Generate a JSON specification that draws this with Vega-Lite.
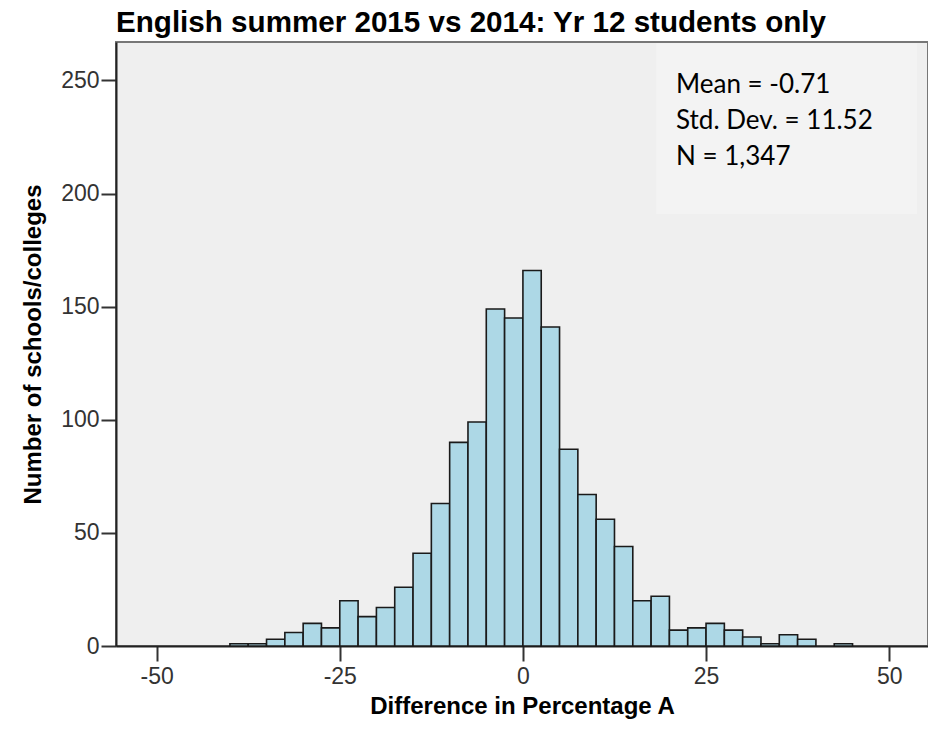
{
  "$schema": "https://vega.github.io/schema/vega-lite/v6.json",
  "width": 812,
  "height": 604,
  "autosize": {"type": "none"},
  "padding": {"left": 116, "top": 42, "right": 0, "bottom": 89},
  "background": "white",
  "title": {
    "text": "English summer 2015 vs 2014: Yr 12 students only",
    "anchor": "start",
    "frame": "group",
    "font": "Liberation Sans",
    "fontSize": 29.6,
    "fontWeight": "bold",
    "color": "#000000",
    "offset": 3
  },
  "config": {
    "view": {"fill": "#efefef", "stroke": "#777777", "strokeWidth": 2},
    "axis": {
      "grid": false,
      "domainColor": "#222222",
      "domainWidth": 2,
      "tickColor": "#333333",
      "tickWidth": 2,
      "tickSize": 15,
      "labelFont": "Liberation Sans",
      "labelFontSize": 23,
      "labelColor": "#333333",
      "titleFont": "Liberation Sans",
      "titleFontSize": 24,
      "titleFontWeight": "bold",
      "titleColor": "#000000"
    }
  },
  "datasets": {
    "bins": [
      {"bin_start": -40, "bin_end": -37.5, "count": 1},
      {"bin_start": -37.5, "bin_end": -35, "count": 1},
      {"bin_start": -35, "bin_end": -32.5, "count": 3},
      {"bin_start": -32.5, "bin_end": -30, "count": 6},
      {"bin_start": -30, "bin_end": -27.5, "count": 10},
      {"bin_start": -27.5, "bin_end": -25, "count": 8},
      {"bin_start": -25, "bin_end": -22.5, "count": 20},
      {"bin_start": -22.5, "bin_end": -20, "count": 13},
      {"bin_start": -20, "bin_end": -17.5, "count": 17},
      {"bin_start": -17.5, "bin_end": -15, "count": 26},
      {"bin_start": -15, "bin_end": -12.5, "count": 41},
      {"bin_start": -12.5, "bin_end": -10, "count": 63},
      {"bin_start": -10, "bin_end": -7.5, "count": 90},
      {"bin_start": -7.5, "bin_end": -5, "count": 99},
      {"bin_start": -5, "bin_end": -2.5, "count": 149},
      {"bin_start": -2.5, "bin_end": 0, "count": 145},
      {"bin_start": 0, "bin_end": 2.5, "count": 166},
      {"bin_start": 2.5, "bin_end": 5, "count": 141},
      {"bin_start": 5, "bin_end": 7.5, "count": 87},
      {"bin_start": 7.5, "bin_end": 10, "count": 67},
      {"bin_start": 10, "bin_end": 12.5, "count": 56},
      {"bin_start": 12.5, "bin_end": 15, "count": 44},
      {"bin_start": 15, "bin_end": 17.5, "count": 20},
      {"bin_start": 17.5, "bin_end": 20, "count": 22},
      {"bin_start": 20, "bin_end": 22.5, "count": 7},
      {"bin_start": 22.5, "bin_end": 25, "count": 8},
      {"bin_start": 25, "bin_end": 27.5, "count": 10},
      {"bin_start": 27.5, "bin_end": 30, "count": 7},
      {"bin_start": 30, "bin_end": 32.5, "count": 4},
      {"bin_start": 32.5, "bin_end": 35, "count": 1},
      {"bin_start": 35, "bin_end": 37.5, "count": 5},
      {"bin_start": 37.5, "bin_end": 40, "count": 3},
      {"bin_start": 42.5, "bin_end": 45, "count": 1}
    ],
    "stats": [
      {"label": "summary"}
    ]
  },
  "layer": [
    {
      "data": {"name": "stats"},
      "mark": {"type": "rect", "fill": "#f3f3f3", "stroke": null},
      "encoding": {
        "x": {"datum": 18.2, "type": "quantitative", "scale": {"domain": [-55.55, 55.3], "nice": false, "zero": false}},
        "x2": {"datum": 53.8},
        "y": {"datum": 191, "type": "quantitative", "scale": {"domain": [0, 267], "nice": false}},
        "y2": {"datum": 266.5}
      }
    },
    {
      "data": {"name": "bins"},
      "mark": {"type": "rect", "fill": "#add8e6", "stroke": "#1a1a1a", "strokeWidth": 1.6},
      "encoding": {
        "x": {
          "field": "bin_start",
          "type": "quantitative",
          "scale": {"domain": [-55.55, 55.3], "nice": false, "zero": false},
          "axis": {"values": [-50, -25, 0, 25, 50], "labelExpr": "toString(datum.value)", "title": "Difference in Percentage A", "labelPadding": 4, "titlePadding": 6}
        },
        "x2": {"field": "bin_end"},
        "y": {
          "field": "count",
          "type": "quantitative",
          "scale": {"domain": [0, 267], "nice": false},
          "axis": {"values": [0, 50, 100, 150, 200, 250], "title": "Number of schools/colleges", "labelPadding": 2, "titlePadding": 15}
        },
        "y2": {"datum": 0}
      }
    },
    {
      "data": {"name": "stats"},
      "mark": {
        "type": "text",
        "text": ["Mean = -0.71", "Std. Dev. = 11.52", "N = 1,347"],
        "align": "left",
        "baseline": "alphabetic",
        "font": "Lato",
        "fontSize": 26,
        "lineHeight": 36,
        "color": "#000000"
      },
      "encoding": {
        "x": {"datum": 20.9, "type": "quantitative"},
        "y": {"datum": 244.6, "type": "quantitative"}
      }
    }
  ]
}
